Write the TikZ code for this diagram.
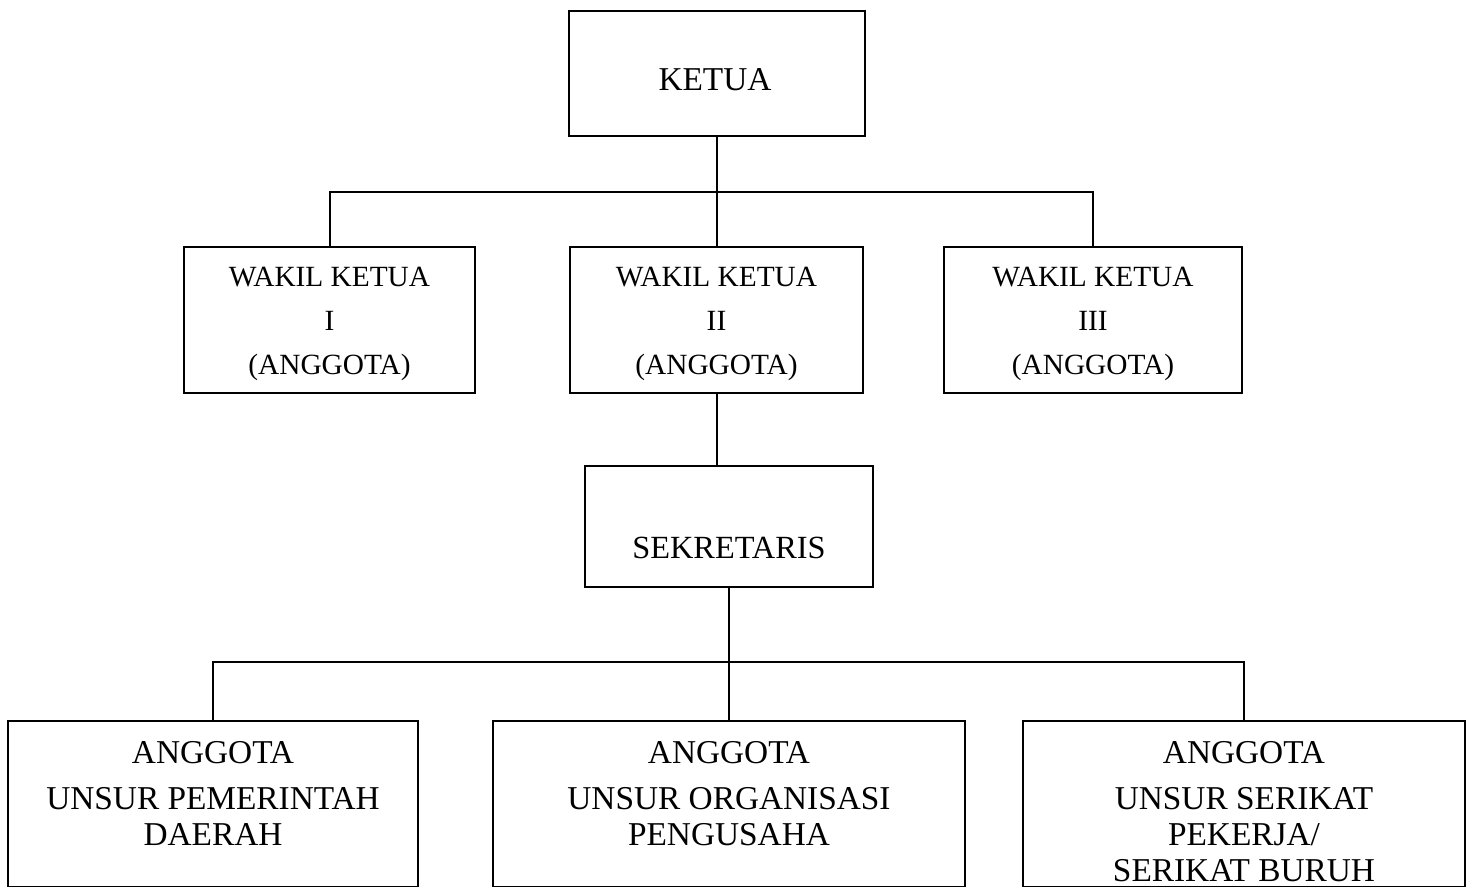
\documentclass[tikz,border=0pt]{standalone}
\usepackage{fontspec}
\setmainfont{Liberation Serif}

\begin{document}
\begin{tikzpicture}[x=0.3pt, y=-0.3pt,
line width=0.6pt,
kotak/.style 2 args={draw, line width=0.6pt, inner sep=0pt,
  minimum width=#1*0.3pt, minimum height=#2*0.3pt},
besar/.style={inner sep=0pt, font=\fontsize{10}{10.8}\selectfont, align=center},
kecil/.style={inner sep=0pt, font=\fontsize{8.8}{13.2}\selectfont, align=center},
]
\useasboundingbox (0,0) rectangle (1470,887);

\node[kotak={296}{125}] (ketua) at (717,73) {};
\node[besar, anchor=base] (tketua) at (715,90) {KETUA};

\node[kotak={291}{146}] (wakila) at (329.5,320) {};
\node[kotak={293}{146}] (wakilb) at (716.5,320) {};
\node[kotak={298}{146}] (wakilc) at (1093,320) {};
\node[kecil, anchor=north] (twakila) at (329.5,266) {WAKIL KETUA\\I\\(ANGGOTA)};
\node[kecil, anchor=north] (twakilb) at (716.5,266) {WAKIL KETUA\\II\\(ANGGOTA)};
\node[kecil, anchor=north] (twakilc) at (1093,266) {WAKIL KETUA\\III\\(ANGGOTA)};

\node[kotak={288}{121}] (sek) at (729,526.5) {};
\node[besar, anchor=base, font=\fontsize{9.7}{10.8}\selectfont] (tsek) at (729,558) {SEKRETARIS};

\node[kotak={410}{166}] (angga) at (213,804) {};
\node[kotak={472}{166}] (anggb) at (729,804) {};
\node[kotak={442}{166}] (anggc) at (1244,804) {};
\node[besar, anchor=north] (tangga) at (213,740) {ANGGOTA\\[3pt]UNSUR PEMERINTAH\\DAERAH};
\node[besar, anchor=north] (tanggb) at (729,740) {ANGGOTA\\[3pt]UNSUR ORGANISASI\\PENGUSAHA};
\node[besar, anchor=north] (tanggc) at (1244,740) {ANGGOTA\\[3pt]UNSUR SERIKAT\\PEKERJA/\\SERIKAT BURUH};

\draw (ketua.south) -- (ketua.south |- wakilb.north);
\draw (wakila.north) -- ++(0,-54) -| (wakilc.north);
\draw (wakilb.south) -- (wakilb.south |- sek.north);
\draw (sek.south) -- (anggb.north);
\draw (angga.north) -- ++(0,-58) -| (anggc.north);
\end{tikzpicture}
\end{document}
